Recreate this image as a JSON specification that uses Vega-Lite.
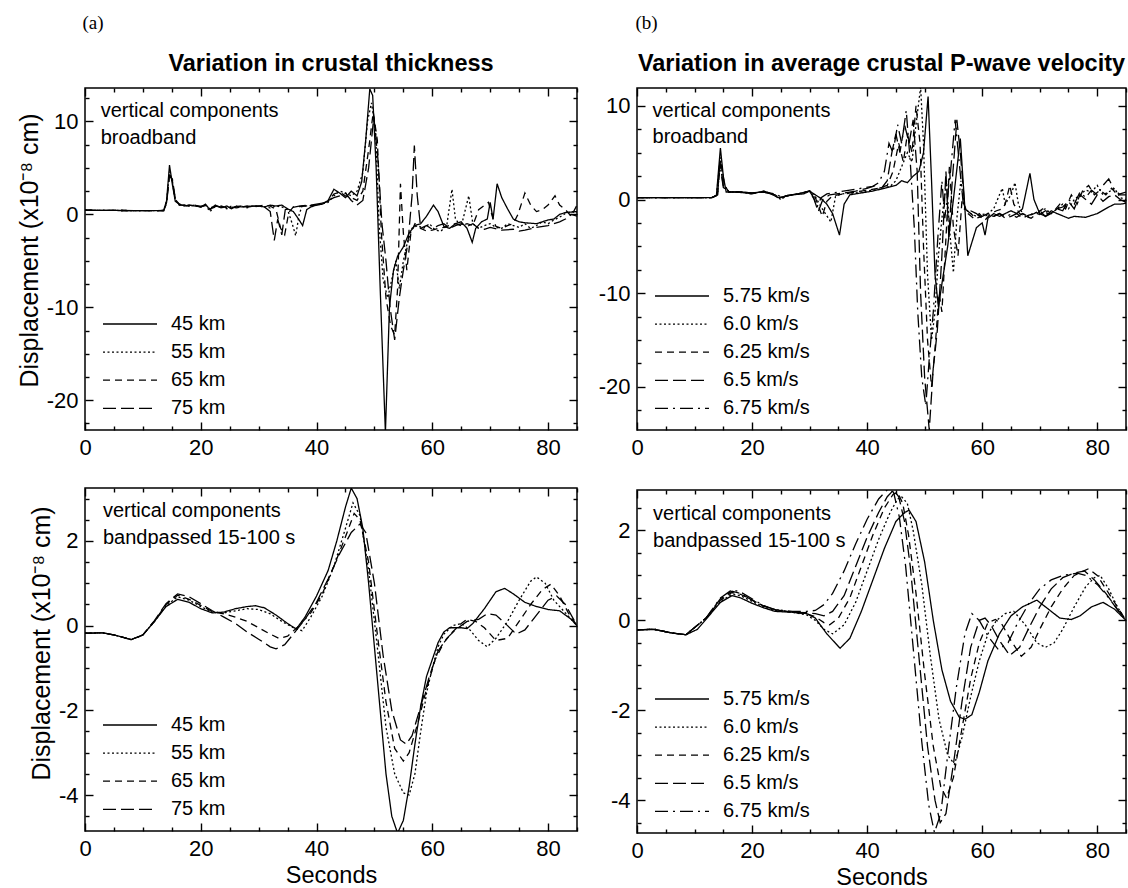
{
"$schema":"https://vega.github.io/schema/vega-lite/v6.json",
"background":"white",
"padding":{"left":16,"top":13,"right":0,"bottom":0},
"config":{
 "font":"Liberation Sans",
 "view":{"stroke":"#000","strokeWidth":1.5},
 "axis":{"domain":false,"grid":false,"labelFont":"Liberation Sans","labelFontSize":22,"labelColor":"#000","tickColor":"#000","tickWidth":1.4,"titleFont":"Liberation Sans","titleFontSize":23.5,"titleFontWeight":"normal","titleColor":"#000","labelFlush":false,"labelOverlap":false},
 "legend":{"orient":"bottom-left","offset":11,"padding":0,"symbolType":"M-0.4,0H5.0","symbolSize":400,"symbolStrokeWidth":1.3,"symbolStrokeColor":"black","symbolFillColor":"transparent","labelFont":"Liberation Sans","labelFontSize":20,"labelColor":"black","labelOffset":53,"rowPadding":7.1,"labelLimit":300},
 "title":{"font":"Liberation Sans","fontSize":23.5,"fontWeight":"bold","color":"black"}
},
"data":{"values":[
{"p":"A1","s":"45 km","x":0,"y":0.45},{"p":"A1","s":"45 km","x":6,"y":0.42},{"p":"A1","s":"45 km","x":12,"y":0.4},{"p":"A1","s":"45 km","x":13.6,"y":0.42},{"p":"A1","s":"45 km","x":14.1,"y":1.5},{"p":"A1","s":"45 km","x":14.6,"y":5.3},{"p":"A1","s":"45 km","x":15.1,"y":3.2},{"p":"A1","s":"45 km","x":15.6,"y":1.4},{"p":"A1","s":"45 km","x":16.3,"y":1.1},{"p":"A1","s":"45 km","x":17.2,"y":0.9},{"p":"A1","s":"45 km","x":18,"y":1.0},{"p":"A1","s":"45 km","x":19,"y":0.9},{"p":"A1","s":"45 km","x":20,"y":0.8},{"p":"A1","s":"45 km","x":20.8,"y":1.1},{"p":"A1","s":"45 km","x":21.6,"y":0.5},{"p":"A1","s":"45 km","x":22.5,"y":1.0},{"p":"A1","s":"45 km","x":23.5,"y":0.7},{"p":"A1","s":"45 km","x":24.5,"y":0.9},{"p":"A1","s":"45 km","x":25.3,"y":0.6},{"p":"A1","s":"45 km","x":26.2,"y":0.9},{"p":"A1","s":"45 km","x":27,"y":0.8},{"p":"A1","s":"45 km","x":28,"y":0.8},{"p":"A1","s":"45 km","x":29,"y":0.9},{"p":"A1","s":"45 km","x":30,"y":0.9},{"p":"A1","s":"45 km","x":31,"y":0.8},{"p":"A1","s":"45 km","x":32,"y":1.0},{"p":"A1","s":"45 km","x":33,"y":0.9},{"p":"A1","s":"45 km","x":34,"y":1.0},{"p":"A1","s":"45 km","x":35,"y":0.6},{"p":"A1","s":"45 km","x":36,"y":0.3},{"p":"A1","s":"45 km","x":37,"y":-0.6},{"p":"A1","s":"45 km","x":37.6,"y":-1.2},{"p":"A1","s":"45 km","x":38.3,"y":0.5},{"p":"A1","s":"45 km","x":39,"y":0.8},{"p":"A1","s":"45 km","x":40,"y":1.0},{"p":"A1","s":"45 km","x":41,"y":1.1},{"p":"A1","s":"45 km","x":42,"y":1.5},{"p":"A1","s":"45 km","x":43,"y":2.7},{"p":"A1","s":"45 km","x":44,"y":2.3},{"p":"A1","s":"45 km","x":45,"y":1.8},{"p":"A1","s":"45 km","x":46,"y":2.5},{"p":"A1","s":"45 km","x":47,"y":2.0},{"p":"A1","s":"45 km","x":47.8,"y":3.5},{"p":"A1","s":"45 km","x":48.5,"y":8},{"p":"A1","s":"45 km","x":49.2,"y":13.5},{"p":"A1","s":"45 km","x":49.7,"y":12.8},{"p":"A1","s":"45 km","x":50.3,"y":5},{"p":"A1","s":"45 km","x":51,"y":-8},{"p":"A1","s":"45 km","x":51.9,"y":-23.5},{"p":"A1","s":"45 km","x":52.6,"y":-10},{"p":"A1","s":"45 km","x":53.3,"y":-6},{"p":"A1","s":"45 km","x":54,"y":-4.5},{"p":"A1","s":"45 km","x":55,"y":-3.5},{"p":"A1","s":"45 km","x":56,"y":-2},{"p":"A1","s":"45 km","x":57,"y":-1.2},{"p":"A1","s":"45 km","x":58,"y":-1.0},{"p":"A1","s":"45 km","x":59,"y":-0.2},{"p":"A1","s":"45 km","x":60.2,"y":1.0},{"p":"A1","s":"45 km","x":61,"y":0.3},{"p":"A1","s":"45 km","x":62,"y":-1.3},{"p":"A1","s":"45 km","x":63,"y":-1.5},{"p":"A1","s":"45 km","x":64,"y":-1.0},{"p":"A1","s":"45 km","x":65,"y":-0.8},{"p":"A1","s":"45 km","x":66,"y":-1.5},{"p":"A1","s":"45 km","x":66.9,"y":-3.0},{"p":"A1","s":"45 km","x":67.5,"y":-1.5},{"p":"A1","s":"45 km","x":68.5,"y":-0.8},{"p":"A1","s":"45 km","x":69.5,"y":-0.5},{"p":"A1","s":"45 km","x":70,"y":1.3},{"p":"A1","s":"45 km","x":70.5,"y":-0.5},{"p":"A1","s":"45 km","x":71.2,"y":3.3},{"p":"A1","s":"45 km","x":72,"y":1.8},{"p":"A1","s":"45 km","x":73,"y":0.6},{"p":"A1","s":"45 km","x":74,"y":-0.5},{"p":"A1","s":"45 km","x":75,"y":-0.8},{"p":"A1","s":"45 km","x":76,"y":-0.9},{"p":"A1","s":"45 km","x":78,"y":-1.0},{"p":"A1","s":"45 km","x":80,"y":-0.6},{"p":"A1","s":"45 km","x":81,"y":-0.5},{"p":"A1","s":"45 km","x":82,"y":0},{"p":"A1","s":"45 km","x":83,"y":0.2},{"p":"A1","s":"45 km","x":85,"y":0.3},
{"p":"A1","s":"55 km","x":0,"y":0.45},{"p":"A1","s":"55 km","x":6,"y":0.42},{"p":"A1","s":"55 km","x":12,"y":0.4},{"p":"A1","s":"55 km","x":13.6,"y":0.42},{"p":"A1","s":"55 km","x":14.1,"y":1.4},{"p":"A1","s":"55 km","x":14.6,"y":4.6},{"p":"A1","s":"55 km","x":15.1,"y":3.4},{"p":"A1","s":"55 km","x":15.6,"y":1.5},{"p":"A1","s":"55 km","x":16.3,"y":1.0},{"p":"A1","s":"55 km","x":17.2,"y":1.0},{"p":"A1","s":"55 km","x":18,"y":0.9},{"p":"A1","s":"55 km","x":19,"y":1.0},{"p":"A1","s":"55 km","x":20,"y":0.8},{"p":"A1","s":"55 km","x":20.8,"y":1.0},{"p":"A1","s":"55 km","x":21.6,"y":0.3},{"p":"A1","s":"55 km","x":22.5,"y":0.9},{"p":"A1","s":"55 km","x":23.5,"y":0.8},{"p":"A1","s":"55 km","x":24.5,"y":0.6},{"p":"A1","s":"55 km","x":25.3,"y":0.9},{"p":"A1","s":"55 km","x":26.2,"y":0.7},{"p":"A1","s":"55 km","x":27,"y":0.9},{"p":"A1","s":"55 km","x":28,"y":0.7},{"p":"A1","s":"55 km","x":29,"y":0.9},{"p":"A1","s":"55 km","x":30,"y":0.9},{"p":"A1","s":"55 km","x":31,"y":0.8},{"p":"A1","s":"55 km","x":32,"y":0.7},{"p":"A1","s":"55 km","x":33,"y":0.9},{"p":"A1","s":"55 km","x":34,"y":0.8},{"p":"A1","s":"55 km","x":35,"y":0.5},{"p":"A1","s":"55 km","x":35.8,"y":-1.0},{"p":"A1","s":"55 km","x":36.4,"y":-2.3},{"p":"A1","s":"55 km","x":37,"y":0.0},{"p":"A1","s":"55 km","x":37.5,"y":0.9},{"p":"A1","s":"55 km","x":38,"y":0.9},{"p":"A1","s":"55 km","x":40,"y":1.0},{"p":"A1","s":"55 km","x":42,"y":1.3},{"p":"A1","s":"55 km","x":43,"y":2.0},{"p":"A1","s":"55 km","x":44,"y":2.5},{"p":"A1","s":"55 km","x":45,"y":2.3},{"p":"A1","s":"55 km","x":46,"y":2.0},{"p":"A1","s":"55 km","x":47,"y":2.5},{"p":"A1","s":"55 km","x":48,"y":4.5},{"p":"A1","s":"55 km","x":48.8,"y":10},{"p":"A1","s":"55 km","x":49.5,"y":12},{"p":"A1","s":"55 km","x":50.2,"y":9},{"p":"A1","s":"55 km","x":50.8,"y":-1},{"p":"A1","s":"55 km","x":51.5,"y":-7},{"p":"A1","s":"55 km","x":52.3,"y":-9},{"p":"A1","s":"55 km","x":53,"y":-7},{"p":"A1","s":"55 km","x":53.7,"y":-5},{"p":"A1","s":"55 km","x":54.3,"y":-8},{"p":"A1","s":"55 km","x":55,"y":-5},{"p":"A1","s":"55 km","x":55.7,"y":-3},{"p":"A1","s":"55 km","x":56.5,"y":-1.5},{"p":"A1","s":"55 km","x":57.5,"y":-1.2},{"p":"A1","s":"55 km","x":58.5,"y":-1.5},{"p":"A1","s":"55 km","x":59.5,"y":-1.0},{"p":"A1","s":"55 km","x":60.5,"y":-1.7},{"p":"A1","s":"55 km","x":61.5,"y":-1.8},{"p":"A1","s":"55 km","x":62.5,"y":-1.2},{"p":"A1","s":"55 km","x":63.4,"y":2.7},{"p":"A1","s":"55 km","x":64,"y":-0.5},{"p":"A1","s":"55 km","x":65,"y":-1.3},{"p":"A1","s":"55 km","x":66.3,"y":2.0},{"p":"A1","s":"55 km","x":67,"y":-1.0},{"p":"A1","s":"55 km","x":68,"y":-1.5},{"p":"A1","s":"55 km","x":69,"y":-1.2},{"p":"A1","s":"55 km","x":70,"y":-1.0},{"p":"A1","s":"55 km","x":71,"y":-1.4},{"p":"A1","s":"55 km","x":72,"y":-1.5},{"p":"A1","s":"55 km","x":73,"y":-1.0},{"p":"A1","s":"55 km","x":74,"y":-1.2},{"p":"A1","s":"55 km","x":75,"y":-1.4},{"p":"A1","s":"55 km","x":76,"y":-1.0},{"p":"A1","s":"55 km","x":77,"y":-1.5},{"p":"A1","s":"55 km","x":78,"y":-1.2},{"p":"A1","s":"55 km","x":79,"y":-0.8},{"p":"A1","s":"55 km","x":80,"y":-1.0},{"p":"A1","s":"55 km","x":81,"y":-0.6},{"p":"A1","s":"55 km","x":82,"y":-0.3},{"p":"A1","s":"55 km","x":83,"y":0.1},{"p":"A1","s":"55 km","x":84,"y":0.3},{"p":"A1","s":"55 km","x":85,"y":0.2},
{"p":"A1","s":"65 km","x":0,"y":0.45},{"p":"A1","s":"65 km","x":6,"y":0.42},{"p":"A1","s":"65 km","x":12,"y":0.4},{"p":"A1","s":"65 km","x":13.6,"y":0.42},{"p":"A1","s":"65 km","x":14.1,"y":1.3},{"p":"A1","s":"65 km","x":14.6,"y":4.4},{"p":"A1","s":"65 km","x":15.1,"y":3.6},{"p":"A1","s":"65 km","x":15.6,"y":1.6},{"p":"A1","s":"65 km","x":16.3,"y":1.1},{"p":"A1","s":"65 km","x":17.2,"y":0.9},{"p":"A1","s":"65 km","x":18,"y":1.0},{"p":"A1","s":"65 km","x":19,"y":0.9},{"p":"A1","s":"65 km","x":20,"y":0.9},{"p":"A1","s":"65 km","x":20.8,"y":0.9},{"p":"A1","s":"65 km","x":21.6,"y":0.6},{"p":"A1","s":"65 km","x":22.5,"y":0.8},{"p":"A1","s":"65 km","x":23.5,"y":0.9},{"p":"A1","s":"65 km","x":24.5,"y":0.7},{"p":"A1","s":"65 km","x":25.3,"y":0.8},{"p":"A1","s":"65 km","x":26.2,"y":0.7},{"p":"A1","s":"65 km","x":27,"y":0.8},{"p":"A1","s":"65 km","x":28,"y":0.9},{"p":"A1","s":"65 km","x":29,"y":0.8},{"p":"A1","s":"65 km","x":30,"y":0.9},{"p":"A1","s":"65 km","x":31,"y":1.0},{"p":"A1","s":"65 km","x":32,"y":0.9},{"p":"A1","s":"65 km","x":33,"y":0.5},{"p":"A1","s":"65 km","x":33.8,"y":-1.5},{"p":"A1","s":"65 km","x":34.5,"y":-2.2},{"p":"A1","s":"65 km","x":35.2,"y":0.2},{"p":"A1","s":"65 km","x":36,"y":0.8},{"p":"A1","s":"65 km","x":38,"y":0.9},{"p":"A1","s":"65 km","x":40,"y":1.0},{"p":"A1","s":"65 km","x":42,"y":1.4},{"p":"A1","s":"65 km","x":43,"y":2.2},{"p":"A1","s":"65 km","x":44,"y":2.4},{"p":"A1","s":"65 km","x":45,"y":2.0},{"p":"A1","s":"65 km","x":46,"y":1.8},{"p":"A1","s":"65 km","x":47,"y":1.5},{"p":"A1","s":"65 km","x":48,"y":2.5},{"p":"A1","s":"65 km","x":49,"y":7},{"p":"A1","s":"65 km","x":49.8,"y":11},{"p":"A1","s":"65 km","x":50.5,"y":8},{"p":"A1","s":"65 km","x":51.2,"y":-2},{"p":"A1","s":"65 km","x":52,"y":-9},{"p":"A1","s":"65 km","x":52.8,"y":-12},{"p":"A1","s":"65 km","x":53.5,"y":-13},{"p":"A1","s":"65 km","x":54,"y":-8},{"p":"A1","s":"65 km","x":54.5,"y":3.3},{"p":"A1","s":"65 km","x":55,"y":-2},{"p":"A1","s":"65 km","x":55.6,"y":-6},{"p":"A1","s":"65 km","x":56.3,"y":-2},{"p":"A1","s":"65 km","x":57,"y":-1.0},{"p":"A1","s":"65 km","x":58,"y":-1.5},{"p":"A1","s":"65 km","x":59,"y":-1.8},{"p":"A1","s":"65 km","x":60,"y":-1.7},{"p":"A1","s":"65 km","x":61,"y":-1.5},{"p":"A1","s":"65 km","x":62,"y":-1.4},{"p":"A1","s":"65 km","x":63,"y":-1.2},{"p":"A1","s":"65 km","x":64,"y":-1.0},{"p":"A1","s":"65 km","x":65,"y":-1.2},{"p":"A1","s":"65 km","x":66,"y":-1.0},{"p":"A1","s":"65 km","x":67,"y":-1.2},{"p":"A1","s":"65 km","x":68,"y":0.5},{"p":"A1","s":"65 km","x":69.7,"y":1.3},{"p":"A1","s":"65 km","x":70.5,"y":-0.5},{"p":"A1","s":"65 km","x":71,"y":-1.3},{"p":"A1","s":"65 km","x":72,"y":-1.5},{"p":"A1","s":"65 km","x":73,"y":-1.2},{"p":"A1","s":"65 km","x":74,"y":-1.0},{"p":"A1","s":"65 km","x":74.8,"y":0},{"p":"A1","s":"65 km","x":76,"y":2.3},{"p":"A1","s":"65 km","x":77,"y":1.0},{"p":"A1","s":"65 km","x":78,"y":0.3},{"p":"A1","s":"65 km","x":79,"y":0.5},{"p":"A1","s":"65 km","x":80,"y":1.0},{"p":"A1","s":"65 km","x":81.2,"y":2.0},{"p":"A1","s":"65 km","x":82,"y":1.0},{"p":"A1","s":"65 km","x":83,"y":0.5},{"p":"A1","s":"65 km","x":84,"y":-0.2},{"p":"A1","s":"65 km","x":85,"y":1.0},
{"p":"A1","s":"75 km","x":0,"y":0.45},{"p":"A1","s":"75 km","x":6,"y":0.42},{"p":"A1","s":"75 km","x":12,"y":0.4},{"p":"A1","s":"75 km","x":13.6,"y":0.42},{"p":"A1","s":"75 km","x":14.1,"y":1.2},{"p":"A1","s":"75 km","x":14.6,"y":4.2},{"p":"A1","s":"75 km","x":15.1,"y":3.8},{"p":"A1","s":"75 km","x":15.6,"y":1.7},{"p":"A1","s":"75 km","x":16.3,"y":1.0},{"p":"A1","s":"75 km","x":17.2,"y":1.0},{"p":"A1","s":"75 km","x":18,"y":0.9},{"p":"A1","s":"75 km","x":19,"y":1.0},{"p":"A1","s":"75 km","x":20,"y":0.8},{"p":"A1","s":"75 km","x":20.8,"y":1.0},{"p":"A1","s":"75 km","x":21.6,"y":0.7},{"p":"A1","s":"75 km","x":22.5,"y":0.9},{"p":"A1","s":"75 km","x":23.5,"y":0.8},{"p":"A1","s":"75 km","x":24.5,"y":0.8},{"p":"A1","s":"75 km","x":25.3,"y":0.7},{"p":"A1","s":"75 km","x":26.2,"y":0.8},{"p":"A1","s":"75 km","x":27,"y":0.9},{"p":"A1","s":"75 km","x":28,"y":0.8},{"p":"A1","s":"75 km","x":29,"y":0.9},{"p":"A1","s":"75 km","x":30,"y":0.9},{"p":"A1","s":"75 km","x":31,"y":0.8},{"p":"A1","s":"75 km","x":32,"y":0.3},{"p":"A1","s":"75 km","x":32.7,"y":-2.8},{"p":"A1","s":"75 km","x":33.3,"y":-0.5},{"p":"A1","s":"75 km","x":34,"y":-2.2},{"p":"A1","s":"75 km","x":34.6,"y":0.5},{"p":"A1","s":"75 km","x":35.5,"y":0.7},{"p":"A1","s":"75 km","x":37,"y":0.9},{"p":"A1","s":"75 km","x":39,"y":1.0},{"p":"A1","s":"75 km","x":41,"y":1.2},{"p":"A1","s":"75 km","x":43,"y":1.8},{"p":"A1","s":"75 km","x":44,"y":2.0},{"p":"A1","s":"75 km","x":45,"y":2.3},{"p":"A1","s":"75 km","x":46,"y":1.5},{"p":"A1","s":"75 km","x":47,"y":1.0},{"p":"A1","s":"75 km","x":48,"y":1.5},{"p":"A1","s":"75 km","x":49,"y":5},{"p":"A1","s":"75 km","x":49.9,"y":10.5},{"p":"A1","s":"75 km","x":50.6,"y":6},{"p":"A1","s":"75 km","x":51.3,"y":-1},{"p":"A1","s":"75 km","x":52,"y":-5},{"p":"A1","s":"75 km","x":52.7,"y":-10},{"p":"A1","s":"75 km","x":53.5,"y":-13.5},{"p":"A1","s":"75 km","x":54.3,"y":-9},{"p":"A1","s":"75 km","x":55,"y":-6},{"p":"A1","s":"75 km","x":55.8,"y":-3},{"p":"A1","s":"75 km","x":56.5,"y":2},{"p":"A1","s":"75 km","x":56.9,"y":7.4},{"p":"A1","s":"75 km","x":57.4,"y":2},{"p":"A1","s":"75 km","x":58,"y":-1.5},{"p":"A1","s":"75 km","x":59,"y":-1.2},{"p":"A1","s":"75 km","x":60,"y":-1.6},{"p":"A1","s":"75 km","x":61,"y":-1.2},{"p":"A1","s":"75 km","x":62,"y":-1.0},{"p":"A1","s":"75 km","x":63,"y":-1.5},{"p":"A1","s":"75 km","x":64,"y":-1.2},{"p":"A1","s":"75 km","x":65,"y":-1.0},{"p":"A1","s":"75 km","x":66,"y":-1.3},{"p":"A1","s":"75 km","x":67,"y":-1.0},{"p":"A1","s":"75 km","x":68,"y":-1.5},{"p":"A1","s":"75 km","x":69,"y":-1.6},{"p":"A1","s":"75 km","x":70,"y":-1.4},{"p":"A1","s":"75 km","x":72,"y":-1.7},{"p":"A1","s":"75 km","x":74,"y":-1.6},{"p":"A1","s":"75 km","x":75,"y":-1.8},{"p":"A1","s":"75 km","x":76,"y":-1.7},{"p":"A1","s":"75 km","x":78,"y":-1.4},{"p":"A1","s":"75 km","x":80,"y":-1.2},{"p":"A1","s":"75 km","x":82,"y":-0.8},{"p":"A1","s":"75 km","x":83,"y":-0.5},{"p":"A1","s":"75 km","x":84,"y":0},{"p":"A1","s":"75 km","x":85,"y":-0.2},
{"p":"B1","s":"5.75 km/s","x":0,"y":0.2},{"p":"B1","s":"5.75 km/s","x":13,"y":0.2},{"p":"B1","s":"5.75 km/s","x":13.8,"y":0.4},{"p":"B1","s":"5.75 km/s","x":14.5,"y":5.5},{"p":"B1","s":"5.75 km/s","x":15,"y":2.5},{"p":"B1","s":"5.75 km/s","x":15.5,"y":0.8},{"p":"B1","s":"5.75 km/s","x":17,"y":0.8},{"p":"B1","s":"5.75 km/s","x":19,"y":0.7},{"p":"B1","s":"5.75 km/s","x":20,"y":0.6},{"p":"B1","s":"5.75 km/s","x":22,"y":0.9},{"p":"B1","s":"5.75 km/s","x":23,"y":0.7},{"p":"B1","s":"5.75 km/s","x":24.5,"y":0.2},{"p":"B1","s":"5.75 km/s","x":25.5,"y":0.3},{"p":"B1","s":"5.75 km/s","x":27,"y":0.5},{"p":"B1","s":"5.75 km/s","x":29,"y":0.6},{"p":"B1","s":"5.75 km/s","x":30,"y":0.9},{"p":"B1","s":"5.75 km/s","x":31,"y":0.5},{"p":"B1","s":"5.75 km/s","x":32,"y":0.1},{"p":"B1","s":"5.75 km/s","x":33,"y":-0.5},{"p":"B1","s":"5.75 km/s","x":34,"y":-1.5},{"p":"B1","s":"5.75 km/s","x":35.2,"y":-3.8},{"p":"B1","s":"5.75 km/s","x":36,"y":-0.5},{"p":"B1","s":"5.75 km/s","x":37,"y":0.5},{"p":"B1","s":"5.75 km/s","x":39,"y":0.7},{"p":"B1","s":"5.75 km/s","x":41,"y":0.9},{"p":"B1","s":"5.75 km/s","x":43,"y":1.2},{"p":"B1","s":"5.75 km/s","x":45,"y":1.5},{"p":"B1","s":"5.75 km/s","x":46,"y":2.0},{"p":"B1","s":"5.75 km/s","x":47,"y":1.8},{"p":"B1","s":"5.75 km/s","x":48,"y":2.5},{"p":"B1","s":"5.75 km/s","x":49,"y":3.0},{"p":"B1","s":"5.75 km/s","x":49.8,"y":5},{"p":"B1","s":"5.75 km/s","x":50.6,"y":11},{"p":"B1","s":"5.75 km/s","x":51.2,"y":2},{"p":"B1","s":"5.75 km/s","x":51.8,"y":-8},{"p":"B1","s":"5.75 km/s","x":52.4,"y":-11.5},{"p":"B1","s":"5.75 km/s","x":53,"y":-9},{"p":"B1","s":"5.75 km/s","x":54,"y":-5},{"p":"B1","s":"5.75 km/s","x":55,"y":0},{"p":"B1","s":"5.75 km/s","x":56.2,"y":6.5},{"p":"B1","s":"5.75 km/s","x":57,"y":-1},{"p":"B1","s":"5.75 km/s","x":57.5,"y":-6},{"p":"B1","s":"5.75 km/s","x":58,"y":-5},{"p":"B1","s":"5.75 km/s","x":59,"y":-3},{"p":"B1","s":"5.75 km/s","x":60,"y":-2.5},{"p":"B1","s":"5.75 km/s","x":60.5,"y":-3.8},{"p":"B1","s":"5.75 km/s","x":61,"y":-2},{"p":"B1","s":"5.75 km/s","x":62,"y":-1.5},{"p":"B1","s":"5.75 km/s","x":63,"y":-1.8},{"p":"B1","s":"5.75 km/s","x":64,"y":-1.5},{"p":"B1","s":"5.75 km/s","x":65,"y":-1.2},{"p":"B1","s":"5.75 km/s","x":66,"y":-1.5},{"p":"B1","s":"5.75 km/s","x":67,"y":-1.0},{"p":"B1","s":"5.75 km/s","x":68.3,"y":2.8},{"p":"B1","s":"5.75 km/s","x":69,"y":0},{"p":"B1","s":"5.75 km/s","x":70,"y":-1.5},{"p":"B1","s":"5.75 km/s","x":71,"y":-1.8},{"p":"B1","s":"5.75 km/s","x":72,"y":-1.2},{"p":"B1","s":"5.75 km/s","x":73,"y":-1.5},{"p":"B1","s":"5.75 km/s","x":75,"y":-2.0},{"p":"B1","s":"5.75 km/s","x":76,"y":-1.8},{"p":"B1","s":"5.75 km/s","x":78,"y":-1.9},{"p":"B1","s":"5.75 km/s","x":80,"y":-1.5},{"p":"B1","s":"5.75 km/s","x":82,"y":-0.8},{"p":"B1","s":"5.75 km/s","x":83,"y":-0.5},{"p":"B1","s":"5.75 km/s","x":84,"y":-0.5},{"p":"B1","s":"5.75 km/s","x":85,"y":-0.4},
{"p":"B1","s":"6.0 km/s","x":0,"y":0.2},{"p":"B1","s":"6.0 km/s","x":13,"y":0.2},{"p":"B1","s":"6.0 km/s","x":13.8,"y":0.4},{"p":"B1","s":"6.0 km/s","x":14.5,"y":4.5},{"p":"B1","s":"6.0 km/s","x":15.2,"y":1.5},{"p":"B1","s":"6.0 km/s","x":16,"y":0.8},{"p":"B1","s":"6.0 km/s","x":18,"y":0.8},{"p":"B1","s":"6.0 km/s","x":20,"y":0.6},{"p":"B1","s":"6.0 km/s","x":22,"y":0.9},{"p":"B1","s":"6.0 km/s","x":23.5,"y":0.6},{"p":"B1","s":"6.0 km/s","x":25,"y":0.0},{"p":"B1","s":"6.0 km/s","x":26,"y":0.4},{"p":"B1","s":"6.0 km/s","x":28,"y":0.6},{"p":"B1","s":"6.0 km/s","x":30,"y":0.9},{"p":"B1","s":"6.0 km/s","x":31,"y":0.3},{"p":"B1","s":"6.0 km/s","x":32,"y":-0.8},{"p":"B1","s":"6.0 km/s","x":33.7,"y":-2.4},{"p":"B1","s":"6.0 km/s","x":34.5,"y":0.3},{"p":"B1","s":"6.0 km/s","x":35.5,"y":0.6},{"p":"B1","s":"6.0 km/s","x":38,"y":0.7},{"p":"B1","s":"6.0 km/s","x":40,"y":0.9},{"p":"B1","s":"6.0 km/s","x":42,"y":1.1},{"p":"B1","s":"6.0 km/s","x":44,"y":1.4},{"p":"B1","s":"6.0 km/s","x":45,"y":2},{"p":"B1","s":"6.0 km/s","x":46,"y":3.5},{"p":"B1","s":"6.0 km/s","x":47,"y":5},{"p":"B1","s":"6.0 km/s","x":47.8,"y":4},{"p":"B1","s":"6.0 km/s","x":48.5,"y":8},{"p":"B1","s":"6.0 km/s","x":49.3,"y":12},{"p":"B1","s":"6.0 km/s","x":49.8,"y":6},{"p":"B1","s":"6.0 km/s","x":50.5,"y":-8},{"p":"B1","s":"6.0 km/s","x":51.2,"y":-15},{"p":"B1","s":"6.0 km/s","x":51.8,"y":-12},{"p":"B1","s":"6.0 km/s","x":52.4,"y":-6},{"p":"B1","s":"6.0 km/s","x":53,"y":-2},{"p":"B1","s":"6.0 km/s","x":53.8,"y":2},{"p":"B1","s":"6.0 km/s","x":54.3,"y":-3},{"p":"B1","s":"6.0 km/s","x":55,"y":-7.8},{"p":"B1","s":"6.0 km/s","x":55.6,"y":-2},{"p":"B1","s":"6.0 km/s","x":56.3,"y":2},{"p":"B1","s":"6.0 km/s","x":57,"y":-1},{"p":"B1","s":"6.0 km/s","x":58,"y":-1.5},{"p":"B1","s":"6.0 km/s","x":59,"y":-1.8},{"p":"B1","s":"6.0 km/s","x":60,"y":-1.6},{"p":"B1","s":"6.0 km/s","x":61,"y":-1.5},{"p":"B1","s":"6.0 km/s","x":62,"y":-1.0},{"p":"B1","s":"6.0 km/s","x":63,"y":0.5},{"p":"B1","s":"6.0 km/s","x":63.5,"y":1.2},{"p":"B1","s":"6.0 km/s","x":64,"y":-0.5},{"p":"B1","s":"6.0 km/s","x":65,"y":0.5},{"p":"B1","s":"6.0 km/s","x":65.7,"y":1.8},{"p":"B1","s":"6.0 km/s","x":66.3,"y":-0.5},{"p":"B1","s":"6.0 km/s","x":67,"y":-1.5},{"p":"B1","s":"6.0 km/s","x":68,"y":-1.8},{"p":"B1","s":"6.0 km/s","x":69,"y":-1.5},{"p":"B1","s":"6.0 km/s","x":70,"y":-1.2},{"p":"B1","s":"6.0 km/s","x":71,"y":-1.0},{"p":"B1","s":"6.0 km/s","x":72,"y":-1.5},{"p":"B1","s":"6.0 km/s","x":73,"y":-1.0},{"p":"B1","s":"6.0 km/s","x":74,"y":-0.5},{"p":"B1","s":"6.0 km/s","x":75,"y":-1.0},{"p":"B1","s":"6.0 km/s","x":76,"y":0},{"p":"B1","s":"6.0 km/s","x":77,"y":0.5},{"p":"B1","s":"6.0 km/s","x":78,"y":1.0},{"p":"B1","s":"6.0 km/s","x":79,"y":0.8},{"p":"B1","s":"6.0 km/s","x":80,"y":1.5},{"p":"B1","s":"6.0 km/s","x":81,"y":0.5},{"p":"B1","s":"6.0 km/s","x":82,"y":0.8},{"p":"B1","s":"6.0 km/s","x":83,"y":1.2},{"p":"B1","s":"6.0 km/s","x":84,"y":0.2},{"p":"B1","s":"6.0 km/s","x":85,"y":0.0},
{"p":"B1","s":"6.25 km/s","x":0,"y":0.2},{"p":"B1","s":"6.25 km/s","x":13,"y":0.2},{"p":"B1","s":"6.25 km/s","x":14,"y":0.5},{"p":"B1","s":"6.25 km/s","x":14.5,"y":4.2},{"p":"B1","s":"6.25 km/s","x":15.2,"y":1.5},{"p":"B1","s":"6.25 km/s","x":16,"y":0.8},{"p":"B1","s":"6.25 km/s","x":18,"y":0.8},{"p":"B1","s":"6.25 km/s","x":20,"y":0.7},{"p":"B1","s":"6.25 km/s","x":22,"y":0.8},{"p":"B1","s":"6.25 km/s","x":24,"y":0.5},{"p":"B1","s":"6.25 km/s","x":25,"y":0.1},{"p":"B1","s":"6.25 km/s","x":26,"y":0.4},{"p":"B1","s":"6.25 km/s","x":28,"y":0.6},{"p":"B1","s":"6.25 km/s","x":30,"y":0.9},{"p":"B1","s":"6.25 km/s","x":31,"y":0.2},{"p":"B1","s":"6.25 km/s","x":32.2,"y":-1.8},{"p":"B1","s":"6.25 km/s","x":33,"y":-0.2},{"p":"B1","s":"6.25 km/s","x":34,"y":0.4},{"p":"B1","s":"6.25 km/s","x":36,"y":0.6},{"p":"B1","s":"6.25 km/s","x":38,"y":0.8},{"p":"B1","s":"6.25 km/s","x":40,"y":1.0},{"p":"B1","s":"6.25 km/s","x":42,"y":1.2},{"p":"B1","s":"6.25 km/s","x":43.5,"y":1.5},{"p":"B1","s":"6.25 km/s","x":44.5,"y":3},{"p":"B1","s":"6.25 km/s","x":45.5,"y":6},{"p":"B1","s":"6.25 km/s","x":46.3,"y":4},{"p":"B1","s":"6.25 km/s","x":47,"y":7},{"p":"B1","s":"6.25 km/s","x":47.8,"y":5},{"p":"B1","s":"6.25 km/s","x":48.5,"y":10},{"p":"B1","s":"6.25 km/s","x":49.2,"y":6},{"p":"B1","s":"6.25 km/s","x":49.8,"y":-5},{"p":"B1","s":"6.25 km/s","x":50.5,"y":-15},{"p":"B1","s":"6.25 km/s","x":51.2,"y":-20},{"p":"B1","s":"6.25 km/s","x":51.8,"y":-16},{"p":"B1","s":"6.25 km/s","x":52.5,"y":-10},{"p":"B1","s":"6.25 km/s","x":53,"y":-12},{"p":"B1","s":"6.25 km/s","x":53.8,"y":-3},{"p":"B1","s":"6.25 km/s","x":54.3,"y":3.5},{"p":"B1","s":"6.25 km/s","x":55,"y":-3},{"p":"B1","s":"6.25 km/s","x":55.8,"y":-6},{"p":"B1","s":"6.25 km/s","x":56.5,"y":0},{"p":"B1","s":"6.25 km/s","x":57.5,"y":-1.5},{"p":"B1","s":"6.25 km/s","x":58.5,"y":-2},{"p":"B1","s":"6.25 km/s","x":59.5,"y":-1.5},{"p":"B1","s":"6.25 km/s","x":60.5,"y":-2.2},{"p":"B1","s":"6.25 km/s","x":61.5,"y":-1.5},{"p":"B1","s":"6.25 km/s","x":62.5,"y":-1.2},{"p":"B1","s":"6.25 km/s","x":63.5,"y":-1.0},{"p":"B1","s":"6.25 km/s","x":64,"y":-0.5},{"p":"B1","s":"6.25 km/s","x":64.8,"y":1.5},{"p":"B1","s":"6.25 km/s","x":65.5,"y":-0.5},{"p":"B1","s":"6.25 km/s","x":66.5,"y":-1.5},{"p":"B1","s":"6.25 km/s","x":67.5,"y":-1.8},{"p":"B1","s":"6.25 km/s","x":68.5,"y":-2.0},{"p":"B1","s":"6.25 km/s","x":69.5,"y":-1.5},{"p":"B1","s":"6.25 km/s","x":70.5,"y":-1.0},{"p":"B1","s":"6.25 km/s","x":71.5,"y":-1.6},{"p":"B1","s":"6.25 km/s","x":72.5,"y":-1.2},{"p":"B1","s":"6.25 km/s","x":73.5,"y":-0.5},{"p":"B1","s":"6.25 km/s","x":74.5,"y":-1.0},{"p":"B1","s":"6.25 km/s","x":75.5,"y":0.5},{"p":"B1","s":"6.25 km/s","x":76.5,"y":-0.5},{"p":"B1","s":"6.25 km/s","x":77.5,"y":1.0},{"p":"B1","s":"6.25 km/s","x":78.5,"y":1.5},{"p":"B1","s":"6.25 km/s","x":79.5,"y":0.5},{"p":"B1","s":"6.25 km/s","x":80.5,"y":1.0},{"p":"B1","s":"6.25 km/s","x":81.5,"y":0.5},{"p":"B1","s":"6.25 km/s","x":82.5,"y":1.2},{"p":"B1","s":"6.25 km/s","x":83.5,"y":0.5},{"p":"B1","s":"6.25 km/s","x":85,"y":0.8},
{"p":"B1","s":"6.5 km/s","x":0,"y":0.2},{"p":"B1","s":"6.5 km/s","x":13,"y":0.2},{"p":"B1","s":"6.5 km/s","x":14,"y":0.5},{"p":"B1","s":"6.5 km/s","x":14.4,"y":4.0},{"p":"B1","s":"6.5 km/s","x":15,"y":1.5},{"p":"B1","s":"6.5 km/s","x":16,"y":0.8},{"p":"B1","s":"6.5 km/s","x":18,"y":0.8},{"p":"B1","s":"6.5 km/s","x":20,"y":0.7},{"p":"B1","s":"6.5 km/s","x":22,"y":0.8},{"p":"B1","s":"6.5 km/s","x":24,"y":0.5},{"p":"B1","s":"6.5 km/s","x":25,"y":0.2},{"p":"B1","s":"6.5 km/s","x":26,"y":0.4},{"p":"B1","s":"6.5 km/s","x":28,"y":0.6},{"p":"B1","s":"6.5 km/s","x":30,"y":0.9},{"p":"B1","s":"6.5 km/s","x":30.8,"y":0.0},{"p":"B1","s":"6.5 km/s","x":31.5,"y":-1.3},{"p":"B1","s":"6.5 km/s","x":32.3,"y":0.0},{"p":"B1","s":"6.5 km/s","x":33.5,"y":0.5},{"p":"B1","s":"6.5 km/s","x":36,"y":0.7},{"p":"B1","s":"6.5 km/s","x":38,"y":0.9},{"p":"B1","s":"6.5 km/s","x":40,"y":1.2},{"p":"B1","s":"6.5 km/s","x":41.5,"y":1.5},{"p":"B1","s":"6.5 km/s","x":42.5,"y":1.2},{"p":"B1","s":"6.5 km/s","x":43.5,"y":2},{"p":"B1","s":"6.5 km/s","x":44.3,"y":5},{"p":"B1","s":"6.5 km/s","x":45,"y":7},{"p":"B1","s":"6.5 km/s","x":45.7,"y":5},{"p":"B1","s":"6.5 km/s","x":46.5,"y":8},{"p":"B1","s":"6.5 km/s","x":47.3,"y":6},{"p":"B1","s":"6.5 km/s","x":48,"y":8.5},{"p":"B1","s":"6.5 km/s","x":48.7,"y":3},{"p":"B1","s":"6.5 km/s","x":49.3,"y":-10},{"p":"B1","s":"6.5 km/s","x":50,"y":-19},{"p":"B1","s":"6.5 km/s","x":50.8,"y":-24.6},{"p":"B1","s":"6.5 km/s","x":51.5,"y":-18},{"p":"B1","s":"6.5 km/s","x":52.2,"y":-14},{"p":"B1","s":"6.5 km/s","x":53,"y":-6},{"p":"B1","s":"6.5 km/s","x":53.7,"y":3},{"p":"B1","s":"6.5 km/s","x":54.2,"y":-4},{"p":"B1","s":"6.5 km/s","x":54.8,"y":2},{"p":"B1","s":"6.5 km/s","x":55.6,"y":8.5},{"p":"B1","s":"6.5 km/s","x":56.2,"y":5},{"p":"B1","s":"6.5 km/s","x":57,"y":-1},{"p":"B1","s":"6.5 km/s","x":58,"y":-1.5},{"p":"B1","s":"6.5 km/s","x":59,"y":-2.0},{"p":"B1","s":"6.5 km/s","x":60,"y":-1.8},{"p":"B1","s":"6.5 km/s","x":61,"y":-1.5},{"p":"B1","s":"6.5 km/s","x":62,"y":-1.8},{"p":"B1","s":"6.5 km/s","x":63,"y":-1.5},{"p":"B1","s":"6.5 km/s","x":64,"y":-2.0},{"p":"B1","s":"6.5 km/s","x":65,"y":-1.8},{"p":"B1","s":"6.5 km/s","x":66,"y":-1.5},{"p":"B1","s":"6.5 km/s","x":67,"y":-2.0},{"p":"B1","s":"6.5 km/s","x":68,"y":-1.7},{"p":"B1","s":"6.5 km/s","x":69,"y":-1.5},{"p":"B1","s":"6.5 km/s","x":70,"y":-1.2},{"p":"B1","s":"6.5 km/s","x":71,"y":-1.8},{"p":"B1","s":"6.5 km/s","x":72,"y":-1.5},{"p":"B1","s":"6.5 km/s","x":73,"y":-1.0},{"p":"B1","s":"6.5 km/s","x":74,"y":-0.8},{"p":"B1","s":"6.5 km/s","x":75,"y":-0.2},{"p":"B1","s":"6.5 km/s","x":76,"y":-1.0},{"p":"B1","s":"6.5 km/s","x":77,"y":0.5},{"p":"B1","s":"6.5 km/s","x":78,"y":0},{"p":"B1","s":"6.5 km/s","x":79,"y":-0.5},{"p":"B1","s":"6.5 km/s","x":80,"y":0.5},{"p":"B1","s":"6.5 km/s","x":81,"y":-0.2},{"p":"B1","s":"6.5 km/s","x":82,"y":0.3},{"p":"B1","s":"6.5 km/s","x":83,"y":0.5},{"p":"B1","s":"6.5 km/s","x":84,"y":0.0},{"p":"B1","s":"6.5 km/s","x":85,"y":-0.3},
{"p":"B1","s":"6.75 km/s","x":0,"y":0.2},{"p":"B1","s":"6.75 km/s","x":13,"y":0.2},{"p":"B1","s":"6.75 km/s","x":14,"y":0.5},{"p":"B1","s":"6.75 km/s","x":14.4,"y":3.8},{"p":"B1","s":"6.75 km/s","x":15,"y":1.3},{"p":"B1","s":"6.75 km/s","x":16,"y":0.8},{"p":"B1","s":"6.75 km/s","x":18,"y":0.8},{"p":"B1","s":"6.75 km/s","x":20,"y":0.7},{"p":"B1","s":"6.75 km/s","x":22,"y":0.8},{"p":"B1","s":"6.75 km/s","x":24,"y":0.6},{"p":"B1","s":"6.75 km/s","x":25,"y":0.3},{"p":"B1","s":"6.75 km/s","x":26,"y":0.4},{"p":"B1","s":"6.75 km/s","x":28,"y":0.6},{"p":"B1","s":"6.75 km/s","x":30,"y":0.9},{"p":"B1","s":"6.75 km/s","x":30.7,"y":0.2},{"p":"B1","s":"6.75 km/s","x":31.3,"y":-0.8},{"p":"B1","s":"6.75 km/s","x":32,"y":0.2},{"p":"B1","s":"6.75 km/s","x":33,"y":0.6},{"p":"B1","s":"6.75 km/s","x":35,"y":0.8},{"p":"B1","s":"6.75 km/s","x":37,"y":1.0},{"p":"B1","s":"6.75 km/s","x":39,"y":1.2},{"p":"B1","s":"6.75 km/s","x":41,"y":1.4},{"p":"B1","s":"6.75 km/s","x":42,"y":1.8},{"p":"B1","s":"6.75 km/s","x":43,"y":3},{"p":"B1","s":"6.75 km/s","x":43.8,"y":6},{"p":"B1","s":"6.75 km/s","x":44.5,"y":5},{"p":"B1","s":"6.75 km/s","x":45.3,"y":8},{"p":"B1","s":"6.75 km/s","x":46,"y":6},{"p":"B1","s":"6.75 km/s","x":46.8,"y":9.5},{"p":"B1","s":"6.75 km/s","x":47.5,"y":4},{"p":"B1","s":"6.75 km/s","x":48.2,"y":-3},{"p":"B1","s":"6.75 km/s","x":48.8,"y":-12},{"p":"B1","s":"6.75 km/s","x":49.5,"y":-19},{"p":"B1","s":"6.75 km/s","x":50.2,"y":-22},{"p":"B1","s":"6.75 km/s","x":50.8,"y":-17},{"p":"B1","s":"6.75 km/s","x":51.5,"y":-12},{"p":"B1","s":"6.75 km/s","x":52.3,"y":-4},{"p":"B1","s":"6.75 km/s","x":53,"y":2},{"p":"B1","s":"6.75 km/s","x":53.5,"y":-2},{"p":"B1","s":"6.75 km/s","x":54.5,"y":3},{"p":"B1","s":"6.75 km/s","x":55.3,"y":8.5},{"p":"B1","s":"6.75 km/s","x":56,"y":4},{"p":"B1","s":"6.75 km/s","x":56.8,"y":-1},{"p":"B1","s":"6.75 km/s","x":58,"y":-1.2},{"p":"B1","s":"6.75 km/s","x":59,"y":-1.5},{"p":"B1","s":"6.75 km/s","x":60,"y":-2.0},{"p":"B1","s":"6.75 km/s","x":61,"y":-1.6},{"p":"B1","s":"6.75 km/s","x":62,"y":-1.8},{"p":"B1","s":"6.75 km/s","x":63,"y":-1.5},{"p":"B1","s":"6.75 km/s","x":64,"y":-1.8},{"p":"B1","s":"6.75 km/s","x":65,"y":-1.6},{"p":"B1","s":"6.75 km/s","x":66,"y":-1.9},{"p":"B1","s":"6.75 km/s","x":67,"y":-1.5},{"p":"B1","s":"6.75 km/s","x":68,"y":-1.8},{"p":"B1","s":"6.75 km/s","x":69,"y":-1.4},{"p":"B1","s":"6.75 km/s","x":70,"y":-1.6},{"p":"B1","s":"6.75 km/s","x":71,"y":-1.2},{"p":"B1","s":"6.75 km/s","x":72,"y":-1.5},{"p":"B1","s":"6.75 km/s","x":73,"y":-1.0},{"p":"B1","s":"6.75 km/s","x":74,"y":-1.2},{"p":"B1","s":"6.75 km/s","x":75,"y":0.0},{"p":"B1","s":"6.75 km/s","x":76,"y":-0.5},{"p":"B1","s":"6.75 km/s","x":77,"y":0.8},{"p":"B1","s":"6.75 km/s","x":78,"y":0.2},{"p":"B1","s":"6.75 km/s","x":79,"y":1.0},{"p":"B1","s":"6.75 km/s","x":80,"y":0.5},{"p":"B1","s":"6.75 km/s","x":81,"y":1.5},{"p":"B1","s":"6.75 km/s","x":82,"y":2.2},{"p":"B1","s":"6.75 km/s","x":83,"y":1.0},{"p":"B1","s":"6.75 km/s","x":84,"y":0.5},{"p":"B1","s":"6.75 km/s","x":85,"y":0.5},
{"p":"A2","s":"45 km","x":0,"y":-0.18},{"p":"A2","s":"45 km","x":3,"y":-0.17},{"p":"A2","s":"45 km","x":5,"y":-0.22},{"p":"A2","s":"45 km","x":8,"y":-0.33},{"p":"A2","s":"45 km","x":10,"y":-0.22},{"p":"A2","s":"45 km","x":12,"y":0.1},{"p":"A2","s":"45 km","x":14,"y":0.45},{"p":"A2","s":"45 km","x":16,"y":0.62},{"p":"A2","s":"45 km","x":18,"y":0.55},{"p":"A2","s":"45 km","x":20,"y":0.4},{"p":"A2","s":"45 km","x":22,"y":0.3},{"p":"A2","s":"45 km","x":24,"y":0.32},{"p":"A2","s":"45 km","x":26,"y":0.4},{"p":"A2","s":"45 km","x":28,"y":0.45},{"p":"A2","s":"45 km","x":29.5,"y":0.47},{"p":"A2","s":"45 km","x":31,"y":0.42},{"p":"A2","s":"45 km","x":33,"y":0.25},{"p":"A2","s":"45 km","x":35,"y":0.05},{"p":"A2","s":"45 km","x":36.5,"y":-0.08},{"p":"A2","s":"45 km","x":38,"y":0.2},{"p":"A2","s":"45 km","x":40,"y":0.7},{"p":"A2","s":"45 km","x":42,"y":1.3},{"p":"A2","s":"45 km","x":43.5,"y":2.0},{"p":"A2","s":"45 km","x":45,"y":2.8},{"p":"A2","s":"45 km","x":46,"y":3.25},{"p":"A2","s":"45 km","x":47,"y":3.0},{"p":"A2","s":"45 km","x":48,"y":2.3},{"p":"A2","s":"45 km","x":49,"y":1.0},{"p":"A2","s":"45 km","x":50,"y":-0.5},{"p":"A2","s":"45 km","x":51,"y":-2.0},{"p":"A2","s":"45 km","x":52,"y":-3.5},{"p":"A2","s":"45 km","x":53,"y":-4.5},{"p":"A2","s":"45 km","x":54,"y":-4.9},{"p":"A2","s":"45 km","x":55,"y":-4.6},{"p":"A2","s":"45 km","x":56,"y":-3.8},{"p":"A2","s":"45 km","x":57,"y":-2.8},{"p":"A2","s":"45 km","x":58,"y":-1.9},{"p":"A2","s":"45 km","x":59,"y":-1.2},{"p":"A2","s":"45 km","x":60,"y":-0.8},{"p":"A2","s":"45 km","x":61,"y":-0.4},{"p":"A2","s":"45 km","x":62,"y":-0.15},{"p":"A2","s":"45 km","x":63,"y":-0.05},{"p":"A2","s":"45 km","x":65,"y":-0.05},{"p":"A2","s":"45 km","x":66,"y":-0.07},{"p":"A2","s":"45 km","x":67,"y":0.05},{"p":"A2","s":"45 km","x":69,"y":0.4},{"p":"A2","s":"45 km","x":71,"y":0.8},{"p":"A2","s":"45 km","x":72.5,"y":0.88},{"p":"A2","s":"45 km","x":74,"y":0.75},{"p":"A2","s":"45 km","x":76,"y":0.55},{"p":"A2","s":"45 km","x":78,"y":0.45},{"p":"A2","s":"45 km","x":80,"y":0.38},{"p":"A2","s":"45 km","x":82,"y":0.35},{"p":"A2","s":"45 km","x":84,"y":0.15},{"p":"A2","s":"45 km","x":85,"y":0.0},
{"p":"A2","s":"55 km","x":0,"y":-0.18},{"p":"A2","s":"55 km","x":3,"y":-0.17},{"p":"A2","s":"55 km","x":5,"y":-0.22},{"p":"A2","s":"55 km","x":8,"y":-0.33},{"p":"A2","s":"55 km","x":10,"y":-0.22},{"p":"A2","s":"55 km","x":12,"y":0.1},{"p":"A2","s":"55 km","x":14,"y":0.47},{"p":"A2","s":"55 km","x":16,"y":0.68},{"p":"A2","s":"55 km","x":18,"y":0.6},{"p":"A2","s":"55 km","x":20,"y":0.45},{"p":"A2","s":"55 km","x":22,"y":0.32},{"p":"A2","s":"55 km","x":24,"y":0.3},{"p":"A2","s":"55 km","x":26,"y":0.35},{"p":"A2","s":"55 km","x":28,"y":0.4},{"p":"A2","s":"55 km","x":30,"y":0.38},{"p":"A2","s":"55 km","x":32,"y":0.28},{"p":"A2","s":"55 km","x":34,"y":0.1},{"p":"A2","s":"55 km","x":36,"y":-0.05},{"p":"A2","s":"55 km","x":37.5,"y":-0.12},{"p":"A2","s":"55 km","x":39,"y":0.2},{"p":"A2","s":"55 km","x":41,"y":0.7},{"p":"A2","s":"55 km","x":43,"y":1.4},{"p":"A2","s":"55 km","x":45,"y":2.3},{"p":"A2","s":"55 km","x":46.3,"y":2.9},{"p":"A2","s":"55 km","x":47.5,"y":2.6},{"p":"A2","s":"55 km","x":49,"y":1.3},{"p":"A2","s":"55 km","x":50.5,"y":-0.5},{"p":"A2","s":"55 km","x":52,"y":-2.4},{"p":"A2","s":"55 km","x":53.5,"y":-3.5},{"p":"A2","s":"55 km","x":55,"y":-3.95},{"p":"A2","s":"55 km","x":56,"y":-4.0},{"p":"A2","s":"55 km","x":57,"y":-3.5},{"p":"A2","s":"55 km","x":58,"y":-2.5},{"p":"A2","s":"55 km","x":59,"y":-1.6},{"p":"A2","s":"55 km","x":60,"y":-1.0},{"p":"A2","s":"55 km","x":61,"y":-0.5},{"p":"A2","s":"55 km","x":62,"y":-0.2},{"p":"A2","s":"55 km","x":63.5,"y":0.0},{"p":"A2","s":"55 km","x":65,"y":0.05},{"p":"A2","s":"55 km","x":66.5,"y":-0.1},{"p":"A2","s":"55 km","x":68,"y":-0.35},{"p":"A2","s":"55 km","x":69.5,"y":-0.5},{"p":"A2","s":"55 km","x":71,"y":-0.3},{"p":"A2","s":"55 km","x":73,"y":0.1},{"p":"A2","s":"55 km","x":75,"y":0.6},{"p":"A2","s":"55 km","x":77,"y":1.05},{"p":"A2","s":"55 km","x":78,"y":1.15},{"p":"A2","s":"55 km","x":79.5,"y":1.0},{"p":"A2","s":"55 km","x":81,"y":0.6},{"p":"A2","s":"55 km","x":83,"y":0.3},{"p":"A2","s":"55 km","x":85,"y":0.0},
{"p":"A2","s":"65 km","x":0,"y":-0.18},{"p":"A2","s":"65 km","x":3,"y":-0.17},{"p":"A2","s":"65 km","x":5,"y":-0.22},{"p":"A2","s":"65 km","x":8,"y":-0.33},{"p":"A2","s":"65 km","x":10,"y":-0.22},{"p":"A2","s":"65 km","x":12,"y":0.1},{"p":"A2","s":"65 km","x":14,"y":0.5},{"p":"A2","s":"65 km","x":16,"y":0.72},{"p":"A2","s":"65 km","x":18,"y":0.62},{"p":"A2","s":"65 km","x":20,"y":0.48},{"p":"A2","s":"65 km","x":22,"y":0.33},{"p":"A2","s":"65 km","x":24,"y":0.28},{"p":"A2","s":"65 km","x":26,"y":0.2},{"p":"A2","s":"65 km","x":28,"y":0.1},{"p":"A2","s":"65 km","x":30,"y":-0.05},{"p":"A2","s":"65 km","x":32,"y":-0.2},{"p":"A2","s":"65 km","x":33.5,"y":-0.3},{"p":"A2","s":"65 km","x":35,"y":-0.25},{"p":"A2","s":"65 km","x":37,"y":0.0},{"p":"A2","s":"65 km","x":39,"y":0.3},{"p":"A2","s":"65 km","x":41,"y":0.75},{"p":"A2","s":"65 km","x":43,"y":1.4},{"p":"A2","s":"65 km","x":45,"y":2.1},{"p":"A2","s":"65 km","x":46.5,"y":2.65},{"p":"A2","s":"65 km","x":47.5,"y":2.5},{"p":"A2","s":"65 km","x":49,"y":1.5},{"p":"A2","s":"65 km","x":50.5,"y":-0.2},{"p":"A2","s":"65 km","x":52,"y":-1.8},{"p":"A2","s":"65 km","x":53.5,"y":-2.9},{"p":"A2","s":"65 km","x":55,"y":-3.2},{"p":"A2","s":"65 km","x":56,"y":-3.0},{"p":"A2","s":"65 km","x":57.5,"y":-2.3},{"p":"A2","s":"65 km","x":59,"y":-1.5},{"p":"A2","s":"65 km","x":60.5,"y":-0.8},{"p":"A2","s":"65 km","x":62,"y":-0.4},{"p":"A2","s":"65 km","x":63.5,"y":-0.15},{"p":"A2","s":"65 km","x":65,"y":0.05},{"p":"A2","s":"65 km","x":66,"y":0.15},{"p":"A2","s":"65 km","x":67.5,"y":0.1},{"p":"A2","s":"65 km","x":69,"y":-0.05},{"p":"A2","s":"65 km","x":71,"y":-0.35},{"p":"A2","s":"65 km","x":73,"y":-0.3},{"p":"A2","s":"65 km","x":75,"y":0.1},{"p":"A2","s":"65 km","x":77,"y":0.5},{"p":"A2","s":"65 km","x":79,"y":0.85},{"p":"A2","s":"65 km","x":80.5,"y":0.98},{"p":"A2","s":"65 km","x":82,"y":0.7},{"p":"A2","s":"65 km","x":83.5,"y":0.3},{"p":"A2","s":"65 km","x":85,"y":0.0},
{"p":"A2","s":"75 km","x":0,"y":-0.18},{"p":"A2","s":"75 km","x":3,"y":-0.17},{"p":"A2","s":"75 km","x":5,"y":-0.22},{"p":"A2","s":"75 km","x":8,"y":-0.33},{"p":"A2","s":"75 km","x":10,"y":-0.22},{"p":"A2","s":"75 km","x":12,"y":0.12},{"p":"A2","s":"75 km","x":14,"y":0.52},{"p":"A2","s":"75 km","x":16,"y":0.75},{"p":"A2","s":"75 km","x":18,"y":0.68},{"p":"A2","s":"75 km","x":20,"y":0.52},{"p":"A2","s":"75 km","x":22,"y":0.35},{"p":"A2","s":"75 km","x":24,"y":0.2},{"p":"A2","s":"75 km","x":26,"y":0.05},{"p":"A2","s":"75 km","x":28,"y":-0.15},{"p":"A2","s":"75 km","x":30,"y":-0.32},{"p":"A2","s":"75 km","x":32,"y":-0.5},{"p":"A2","s":"75 km","x":33,"y":-0.55},{"p":"A2","s":"75 km","x":34.5,"y":-0.45},{"p":"A2","s":"75 km","x":36,"y":-0.2},{"p":"A2","s":"75 km","x":38,"y":0.15},{"p":"A2","s":"75 km","x":40,"y":0.55},{"p":"A2","s":"75 km","x":42,"y":1.1},{"p":"A2","s":"75 km","x":44,"y":1.7},{"p":"A2","s":"75 km","x":46,"y":2.2},{"p":"A2","s":"75 km","x":47.5,"y":2.4},{"p":"A2","s":"75 km","x":48.5,"y":2.2},{"p":"A2","s":"75 km","x":50,"y":1.0},{"p":"A2","s":"75 km","x":51.5,"y":-0.7},{"p":"A2","s":"75 km","x":53,"y":-2.0},{"p":"A2","s":"75 km","x":54.5,"y":-2.7},{"p":"A2","s":"75 km","x":55.5,"y":-2.8},{"p":"A2","s":"75 km","x":56.5,"y":-2.6},{"p":"A2","s":"75 km","x":58,"y":-1.9},{"p":"A2","s":"75 km","x":59.5,"y":-1.2},{"p":"A2","s":"75 km","x":61,"y":-0.6},{"p":"A2","s":"75 km","x":62.5,"y":-0.3},{"p":"A2","s":"75 km","x":64,"y":-0.1},{"p":"A2","s":"75 km","x":66,"y":0.1},{"p":"A2","s":"75 km","x":68,"y":0.15},{"p":"A2","s":"75 km","x":69.5,"y":0.28},{"p":"A2","s":"75 km","x":71,"y":0.25},{"p":"A2","s":"75 km","x":73,"y":0.0},{"p":"A2","s":"75 km","x":74.5,"y":-0.2},{"p":"A2","s":"75 km","x":76,"y":-0.1},{"p":"A2","s":"75 km","x":78,"y":0.25},{"p":"A2","s":"75 km","x":80,"y":0.6},{"p":"A2","s":"75 km","x":81.5,"y":0.7},{"p":"A2","s":"75 km","x":83,"y":0.5},{"p":"A2","s":"75 km","x":85,"y":0.0},
{"p":"B2","s":"5.75 km/s","x":0,"y":-0.21},{"p":"B2","s":"5.75 km/s","x":3,"y":-0.2},{"p":"B2","s":"5.75 km/s","x":6,"y":-0.28},{"p":"B2","s":"5.75 km/s","x":8.5,"y":-0.32},{"p":"B2","s":"5.75 km/s","x":10.5,"y":-0.2},{"p":"B2","s":"5.75 km/s","x":12.5,"y":0.1},{"p":"B2","s":"5.75 km/s","x":14.5,"y":0.4},{"p":"B2","s":"5.75 km/s","x":16.5,"y":0.55},{"p":"B2","s":"5.75 km/s","x":18,"y":0.5},{"p":"B2","s":"5.75 km/s","x":20,"y":0.38},{"p":"B2","s":"5.75 km/s","x":22,"y":0.28},{"p":"B2","s":"5.75 km/s","x":24,"y":0.2},{"p":"B2","s":"5.75 km/s","x":27,"y":0.18},{"p":"B2","s":"5.75 km/s","x":29.5,"y":0.15},{"p":"B2","s":"5.75 km/s","x":31,"y":0.05},{"p":"B2","s":"5.75 km/s","x":33,"y":-0.3},{"p":"B2","s":"5.75 km/s","x":35.3,"y":-0.62},{"p":"B2","s":"5.75 km/s","x":37,"y":-0.4},{"p":"B2","s":"5.75 km/s","x":39,"y":0.2},{"p":"B2","s":"5.75 km/s","x":41,"y":0.9},{"p":"B2","s":"5.75 km/s","x":43,"y":1.6},{"p":"B2","s":"5.75 km/s","x":45,"y":2.2},{"p":"B2","s":"5.75 km/s","x":46.5,"y":2.4},{"p":"B2","s":"5.75 km/s","x":47.3,"y":2.45},{"p":"B2","s":"5.75 km/s","x":48.5,"y":2.2},{"p":"B2","s":"5.75 km/s","x":50,"y":1.3},{"p":"B2","s":"5.75 km/s","x":51.5,"y":0.0},{"p":"B2","s":"5.75 km/s","x":53,"y":-1.1},{"p":"B2","s":"5.75 km/s","x":54.5,"y":-1.8},{"p":"B2","s":"5.75 km/s","x":56,"y":-2.15},{"p":"B2","s":"5.75 km/s","x":57,"y":-2.2},{"p":"B2","s":"5.75 km/s","x":58.2,"y":-2.1},{"p":"B2","s":"5.75 km/s","x":59.5,"y":-1.6},{"p":"B2","s":"5.75 km/s","x":61,"y":-0.9},{"p":"B2","s":"5.75 km/s","x":63,"y":-0.3},{"p":"B2","s":"5.75 km/s","x":65,"y":0.1},{"p":"B2","s":"5.75 km/s","x":67,"y":0.3},{"p":"B2","s":"5.75 km/s","x":69.5,"y":0.45},{"p":"B2","s":"5.75 km/s","x":71.5,"y":0.25},{"p":"B2","s":"5.75 km/s","x":73.5,"y":0.05},{"p":"B2","s":"5.75 km/s","x":75.5,"y":0.02},{"p":"B2","s":"5.75 km/s","x":77,"y":0.1},{"p":"B2","s":"5.75 km/s","x":79,"y":0.3},{"p":"B2","s":"5.75 km/s","x":81,"y":0.4},{"p":"B2","s":"5.75 km/s","x":83,"y":0.25},{"p":"B2","s":"5.75 km/s","x":85,"y":0.0},
{"p":"B2","s":"6.0 km/s","x":0,"y":-0.21},{"p":"B2","s":"6.0 km/s","x":3,"y":-0.2},{"p":"B2","s":"6.0 km/s","x":6,"y":-0.28},{"p":"B2","s":"6.0 km/s","x":8.5,"y":-0.32},{"p":"B2","s":"6.0 km/s","x":12,"y":0.05},{"p":"B2","s":"6.0 km/s","x":14.5,"y":0.42},{"p":"B2","s":"6.0 km/s","x":16.5,"y":0.58},{"p":"B2","s":"6.0 km/s","x":18,"y":0.55},{"p":"B2","s":"6.0 km/s","x":20,"y":0.42},{"p":"B2","s":"6.0 km/s","x":22,"y":0.3},{"p":"B2","s":"6.0 km/s","x":24,"y":0.22},{"p":"B2","s":"6.0 km/s","x":27,"y":0.18},{"p":"B2","s":"6.0 km/s","x":29.5,"y":0.12},{"p":"B2","s":"6.0 km/s","x":31,"y":0.0},{"p":"B2","s":"6.0 km/s","x":32.5,"y":-0.2},{"p":"B2","s":"6.0 km/s","x":34,"y":-0.3},{"p":"B2","s":"6.0 km/s","x":36,"y":-0.1},{"p":"B2","s":"6.0 km/s","x":38,"y":0.4},{"p":"B2","s":"6.0 km/s","x":40,"y":1.1},{"p":"B2","s":"6.0 km/s","x":42,"y":1.8},{"p":"B2","s":"6.0 km/s","x":44,"y":2.4},{"p":"B2","s":"6.0 km/s","x":45.3,"y":2.7},{"p":"B2","s":"6.0 km/s","x":46,"y":2.75},{"p":"B2","s":"6.0 km/s","x":47,"y":2.6},{"p":"B2","s":"6.0 km/s","x":48,"y":2.0},{"p":"B2","s":"6.0 km/s","x":49.5,"y":0.8},{"p":"B2","s":"6.0 km/s","x":51,"y":-0.8},{"p":"B2","s":"6.0 km/s","x":52.5,"y":-2.2},{"p":"B2","s":"6.0 km/s","x":54,"y":-3.0},{"p":"B2","s":"6.0 km/s","x":55.2,"y":-3.2},{"p":"B2","s":"6.0 km/s","x":56.5,"y":-2.6},{"p":"B2","s":"6.0 km/s","x":58,"y":-1.7},{"p":"B2","s":"6.0 km/s","x":59.5,"y":-0.9},{"p":"B2","s":"6.0 km/s","x":61,"y":-0.3},{"p":"B2","s":"6.0 km/s","x":62.5,"y":0.0},{"p":"B2","s":"6.0 km/s","x":64,"y":0.15},{"p":"B2","s":"6.0 km/s","x":65.5,"y":0.2},{"p":"B2","s":"6.0 km/s","x":67.5,"y":-0.1},{"p":"B2","s":"6.0 km/s","x":69.5,"y":-0.5},{"p":"B2","s":"6.0 km/s","x":71,"y":-0.6},{"p":"B2","s":"6.0 km/s","x":72.5,"y":-0.5},{"p":"B2","s":"6.0 km/s","x":74,"y":-0.2},{"p":"B2","s":"6.0 km/s","x":76,"y":0.3},{"p":"B2","s":"6.0 km/s","x":78,"y":0.75},{"p":"B2","s":"6.0 km/s","x":79.5,"y":0.95},{"p":"B2","s":"6.0 km/s","x":80.5,"y":1.0},{"p":"B2","s":"6.0 km/s","x":82,"y":0.7},{"p":"B2","s":"6.0 km/s","x":83.5,"y":0.3},{"p":"B2","s":"6.0 km/s","x":85,"y":0.0},
{"p":"B2","s":"6.25 km/s","x":0,"y":-0.21},{"p":"B2","s":"6.25 km/s","x":3,"y":-0.2},{"p":"B2","s":"6.25 km/s","x":6,"y":-0.28},{"p":"B2","s":"6.25 km/s","x":8.5,"y":-0.32},{"p":"B2","s":"6.25 km/s","x":12,"y":0.05},{"p":"B2","s":"6.25 km/s","x":14.5,"y":0.45},{"p":"B2","s":"6.25 km/s","x":16.5,"y":0.62},{"p":"B2","s":"6.25 km/s","x":18,"y":0.58},{"p":"B2","s":"6.25 km/s","x":20,"y":0.45},{"p":"B2","s":"6.25 km/s","x":22,"y":0.32},{"p":"B2","s":"6.25 km/s","x":24,"y":0.24},{"p":"B2","s":"6.25 km/s","x":27,"y":0.18},{"p":"B2","s":"6.25 km/s","x":29.5,"y":0.15},{"p":"B2","s":"6.25 km/s","x":31,"y":0.08},{"p":"B2","s":"6.25 km/s","x":32.5,"y":-0.05},{"p":"B2","s":"6.25 km/s","x":33.5,"y":-0.1},{"p":"B2","s":"6.25 km/s","x":35,"y":0.05},{"p":"B2","s":"6.25 km/s","x":37,"y":0.5},{"p":"B2","s":"6.25 km/s","x":39,"y":1.2},{"p":"B2","s":"6.25 km/s","x":41,"y":1.9},{"p":"B2","s":"6.25 km/s","x":43,"y":2.5},{"p":"B2","s":"6.25 km/s","x":44.5,"y":2.8},{"p":"B2","s":"6.25 km/s","x":45.3,"y":2.85},{"p":"B2","s":"6.25 km/s","x":46.2,"y":2.6},{"p":"B2","s":"6.25 km/s","x":47.2,"y":1.9},{"p":"B2","s":"6.25 km/s","x":48.5,"y":0.6},{"p":"B2","s":"6.25 km/s","x":50,"y":-1.2},{"p":"B2","s":"6.25 km/s","x":51.5,"y":-2.8},{"p":"B2","s":"6.25 km/s","x":52.8,"y":-3.7},{"p":"B2","s":"6.25 km/s","x":53.8,"y":-3.95},{"p":"B2","s":"6.25 km/s","x":55,"y":-3.5},{"p":"B2","s":"6.25 km/s","x":56.5,"y":-2.4},{"p":"B2","s":"6.25 km/s","x":58,"y":-1.3},{"p":"B2","s":"6.25 km/s","x":59.5,"y":-0.5},{"p":"B2","s":"6.25 km/s","x":61,"y":-0.05},{"p":"B2","s":"6.25 km/s","x":62.3,"y":0.02},{"p":"B2","s":"6.25 km/s","x":63.5,"y":-0.1},{"p":"B2","s":"6.25 km/s","x":65,"y":-0.45},{"p":"B2","s":"6.25 km/s","x":66.8,"y":-0.8},{"p":"B2","s":"6.25 km/s","x":68.5,"y":-0.6},{"p":"B2","s":"6.25 km/s","x":70,"y":-0.2},{"p":"B2","s":"6.25 km/s","x":72,"y":0.3},{"p":"B2","s":"6.25 km/s","x":74,"y":0.7},{"p":"B2","s":"6.25 km/s","x":76,"y":1.0},{"p":"B2","s":"6.25 km/s","x":78.5,"y":1.15},{"p":"B2","s":"6.25 km/s","x":80,"y":1.0},{"p":"B2","s":"6.25 km/s","x":82,"y":0.6},{"p":"B2","s":"6.25 km/s","x":83.5,"y":0.3},{"p":"B2","s":"6.25 km/s","x":85,"y":0.0},
{"p":"B2","s":"6.5 km/s","x":0,"y":-0.21},{"p":"B2","s":"6.5 km/s","x":3,"y":-0.2},{"p":"B2","s":"6.5 km/s","x":6,"y":-0.28},{"p":"B2","s":"6.5 km/s","x":8.5,"y":-0.32},{"p":"B2","s":"6.5 km/s","x":12,"y":0.05},{"p":"B2","s":"6.5 km/s","x":14.5,"y":0.48},{"p":"B2","s":"6.5 km/s","x":16.5,"y":0.65},{"p":"B2","s":"6.5 km/s","x":18,"y":0.6},{"p":"B2","s":"6.5 km/s","x":20,"y":0.45},{"p":"B2","s":"6.5 km/s","x":22,"y":0.32},{"p":"B2","s":"6.5 km/s","x":24,"y":0.24},{"p":"B2","s":"6.5 km/s","x":27,"y":0.18},{"p":"B2","s":"6.5 km/s","x":29.5,"y":0.17},{"p":"B2","s":"6.5 km/s","x":31,"y":0.15},{"p":"B2","s":"6.5 km/s","x":32.5,"y":0.1},{"p":"B2","s":"6.5 km/s","x":34,"y":0.2},{"p":"B2","s":"6.5 km/s","x":36,"y":0.55},{"p":"B2","s":"6.5 km/s","x":38,"y":1.2},{"p":"B2","s":"6.5 km/s","x":40,"y":1.85},{"p":"B2","s":"6.5 km/s","x":42,"y":2.4},{"p":"B2","s":"6.5 km/s","x":43.5,"y":2.75},{"p":"B2","s":"6.5 km/s","x":44.6,"y":2.9},{"p":"B2","s":"6.5 km/s","x":45.5,"y":2.75},{"p":"B2","s":"6.5 km/s","x":46.5,"y":2.2},{"p":"B2","s":"6.5 km/s","x":47.5,"y":1.2},{"p":"B2","s":"6.5 km/s","x":49,"y":-0.8},{"p":"B2","s":"6.5 km/s","x":50.5,"y":-2.8},{"p":"B2","s":"6.5 km/s","x":51.8,"y":-4.0},{"p":"B2","s":"6.5 km/s","x":52.7,"y":-4.5},{"p":"B2","s":"6.5 km/s","x":53.7,"y":-4.3},{"p":"B2","s":"6.5 km/s","x":55,"y":-3.2},{"p":"B2","s":"6.5 km/s","x":56.5,"y":-1.8},{"p":"B2","s":"6.5 km/s","x":58,"y":-0.6},{"p":"B2","s":"6.5 km/s","x":59.5,"y":0.0},{"p":"B2","s":"6.5 km/s","x":60.5,"y":0.05},{"p":"B2","s":"6.5 km/s","x":61.5,"y":-0.1},{"p":"B2","s":"6.5 km/s","x":63,"y":-0.45},{"p":"B2","s":"6.5 km/s","x":64.8,"y":-0.78},{"p":"B2","s":"6.5 km/s","x":66.5,"y":-0.6},{"p":"B2","s":"6.5 km/s","x":68,"y":-0.2},{"p":"B2","s":"6.5 km/s","x":70,"y":0.3},{"p":"B2","s":"6.5 km/s","x":72,"y":0.7},{"p":"B2","s":"6.5 km/s","x":74,"y":0.95},{"p":"B2","s":"6.5 km/s","x":76,"y":1.05},{"p":"B2","s":"6.5 km/s","x":77.8,"y":1.1},{"p":"B2","s":"6.5 km/s","x":79.5,"y":0.9},{"p":"B2","s":"6.5 km/s","x":81.5,"y":0.6},{"p":"B2","s":"6.5 km/s","x":83.5,"y":0.25},{"p":"B2","s":"6.5 km/s","x":85,"y":0.0},
{"p":"B2","s":"6.75 km/s","x":0,"y":-0.21},{"p":"B2","s":"6.75 km/s","x":3,"y":-0.2},{"p":"B2","s":"6.75 km/s","x":6,"y":-0.28},{"p":"B2","s":"6.75 km/s","x":8.5,"y":-0.32},{"p":"B2","s":"6.75 km/s","x":12,"y":0.05},{"p":"B2","s":"6.75 km/s","x":14.5,"y":0.5},{"p":"B2","s":"6.75 km/s","x":16.5,"y":0.68},{"p":"B2","s":"6.75 km/s","x":18,"y":0.63},{"p":"B2","s":"6.75 km/s","x":20,"y":0.48},{"p":"B2","s":"6.75 km/s","x":22,"y":0.33},{"p":"B2","s":"6.75 km/s","x":24,"y":0.24},{"p":"B2","s":"6.75 km/s","x":27,"y":0.2},{"p":"B2","s":"6.75 km/s","x":29.5,"y":0.2},{"p":"B2","s":"6.75 km/s","x":31,"y":0.22},{"p":"B2","s":"6.75 km/s","x":32.5,"y":0.35},{"p":"B2","s":"6.75 km/s","x":34,"y":0.6},{"p":"B2","s":"6.75 km/s","x":36,"y":1.1},{"p":"B2","s":"6.75 km/s","x":38,"y":1.7},{"p":"B2","s":"6.75 km/s","x":40,"y":2.25},{"p":"B2","s":"6.75 km/s","x":42,"y":2.7},{"p":"B2","s":"6.75 km/s","x":43.6,"y":2.92},{"p":"B2","s":"6.75 km/s","x":44.6,"y":2.85},{"p":"B2","s":"6.75 km/s","x":45.6,"y":2.3},{"p":"B2","s":"6.75 km/s","x":46.7,"y":1.2},{"p":"B2","s":"6.75 km/s","x":48,"y":-0.6},{"p":"B2","s":"6.75 km/s","x":49.5,"y":-2.7},{"p":"B2","s":"6.75 km/s","x":50.7,"y":-4.1},{"p":"B2","s":"6.75 km/s","x":51.7,"y":-4.72},{"p":"B2","s":"6.75 km/s","x":52.8,"y":-4.3},{"p":"B2","s":"6.75 km/s","x":54,"y":-3.0},{"p":"B2","s":"6.75 km/s","x":55.5,"y":-1.5},{"p":"B2","s":"6.75 km/s","x":57,"y":-0.3},{"p":"B2","s":"6.75 km/s","x":58.2,"y":0.15},{"p":"B2","s":"6.75 km/s","x":59.5,"y":0.0},{"p":"B2","s":"6.75 km/s","x":61,"y":-0.35},{"p":"B2","s":"6.75 km/s","x":62.8,"y":-0.65},{"p":"B2","s":"6.75 km/s","x":64.5,"y":-0.5},{"p":"B2","s":"6.75 km/s","x":66,"y":-0.1},{"p":"B2","s":"6.75 km/s","x":68,"y":0.35},{"p":"B2","s":"6.75 km/s","x":70,"y":0.7},{"p":"B2","s":"6.75 km/s","x":72,"y":0.9},{"p":"B2","s":"6.75 km/s","x":74,"y":1.0},{"p":"B2","s":"6.75 km/s","x":76.5,"y":1.05},{"p":"B2","s":"6.75 km/s","x":78,"y":1.0},{"p":"B2","s":"6.75 km/s","x":80,"y":0.8},{"p":"B2","s":"6.75 km/s","x":82,"y":0.5},{"p":"B2","s":"6.75 km/s","x":84,"y":0.15},{"p":"B2","s":"6.75 km/s","x":85,"y":0.0}
]},
"resolve":{"scale":{"strokeDash":"independent"},"legend":{"strokeDash":"independent"}},
"spacing":18,
"hconcat":[
{
 "title":{"text":"(a)","anchor":"start","font":"Liberation Serif","fontSize":19,"fontWeight":"normal","offset":18,"dx":66},
 "spacing":23,
 "resolve":{"scale":{"strokeDash":"independent"},"legend":{"strokeDash":"independent"}},
 "vconcat":[
  {
   "width":492,"height":342,
   "title":{"text":"Variation in crustal thickness","anchor":"middle","frame":"group","offset":12},
   "resolve":{"axis":{"x":"independent","y":"independent"}},
   "layer":[
    {
     "transform":[{"filter":"datum.p === 'A1'"}],
     "mark":{"type":"line","clip":true,"color":"black","strokeWidth":1.3},
     "encoding":{
      "x":{"field":"x","type":"quantitative","scale":{"domain":[0,85],"nice":false,"zero":false},
           "axis":{"orient":"bottom","title":null,"values":[0,5,10,15,20,25,30,35,40,45,50,55,60,65,70,75,80,85],"labelExpr":"datum.value % 20 === 0 ? datum.label : ''","tickSize":{"condition":{"test":"datum.value % 20 === 0","value":-8},"value":-4},"labelPadding":15}},
      "y":{"field":"y","type":"quantitative","scale":{"domain":[-23.2,13.6],"nice":false,"zero":false},
           "axis":{"orient":"left","title":"Displacement (x10⁻⁸ cm)","titleFontSize":25,"titlePadding":4,"titleY":162,"values":[-22.5,-20,-17.5,-15,-12.5,-10,-7.5,-5,-2.5,0,2.5,5,7.5,10,12.5],"labelExpr":"datum.value % 10 === 0 ? '' + datum.value : ''","tickSize":{"condition":{"test":"datum.value % 10 === 0","value":-8},"value":-4},"labelPadding":15}},
      "strokeDash":{"field":"s","type":"nominal","scale":{"domain":["45 km","55 km","65 km","75 km"],"range":[[1,0],[2,2.5],[7,5],[13,5]]},"legend":{"title":null}}
     }
    },
    {
     "data":{"values":[{}]},
     "mark":{"type":"text","align":"left","baseline":"top","fontSize":20,"lineBreak":"\n","lineHeight":27,"color":"black"},
     "encoding":{
      "x":{"datum":2.7,"type":"quantitative","axis":{"orient":"top","title":null,"labels":false,"values":[0,5,10,15,20,25,30,35,40,45,50,55,60,65,70,75,80,85],"tickSize":{"condition":{"test":"datum.value % 20 === 0","value":-8},"value":-4}}},
      "y":{"datum":12.15,"type":"quantitative","axis":{"orient":"right","title":null,"labels":false,"values":[-22.5,-20,-17.5,-15,-12.5,-10,-7.5,-5,-2.5,0,2.5,5,7.5,10,12.5],"tickSize":{"condition":{"test":"datum.value % 10 === 0","value":-8},"value":-4}}},
      "text":{"value":"vertical components\nbroadband"}
     }
    }
   ]
  },
  {
   "width":492,"height":343,
   "resolve":{"axis":{"x":"independent","y":"independent"}},
   "layer":[
    {
     "transform":[{"filter":"datum.p === 'A2'"}],
     "mark":{"type":"line","clip":true,"color":"black","strokeWidth":1.3},
     "encoding":{
      "x":{"field":"x","type":"quantitative","scale":{"domain":[0,85],"nice":false,"zero":false},
           "axis":{"orient":"bottom","title":"Seconds","titlePadding":0,"values":[0,5,10,15,20,25,30,35,40,45,50,55,60,65,70,75,80,85],"labelExpr":"datum.value % 20 === 0 ? datum.label : ''","tickSize":{"condition":{"test":"datum.value % 20 === 0","value":-8},"value":-4},"labelPadding":15}},
      "y":{"field":"y","type":"quantitative","scale":{"domain":[-4.85,3.25],"nice":false,"zero":false},
           "axis":{"orient":"left","title":"Displacement (x10⁻⁸ cm)","titleFontSize":25,"titlePadding":4,"titleY":155,"values":[-4.5,-4,-3.5,-3,-2.5,-2,-1.5,-1,-0.5,0,0.5,1,1.5,2,2.5,3],"labelExpr":"datum.value % 2 === 0 ? '' + datum.value : ''","tickSize":{"condition":{"test":"datum.value % 2 === 0","value":-8},"value":-4},"labelPadding":15}},
      "strokeDash":{"field":"s","type":"nominal","scale":{"domain":["45 km","55 km","65 km","75 km"],"range":[[1,0],[2,2.5],[7,5],[13,5]]},"legend":{"title":null}}
     }
    },
    {
     "data":{"values":[{}]},
     "mark":{"type":"text","align":"left","baseline":"top","fontSize":20,"lineBreak":"\n","lineHeight":27,"color":"black"},
     "encoding":{
      "x":{"datum":3.1,"type":"quantitative","axis":{"orient":"top","title":null,"labels":false,"values":[0,5,10,15,20,25,30,35,40,45,50,55,60,65,70,75,80,85],"tickSize":{"condition":{"test":"datum.value % 20 === 0","value":-8},"value":-4}}},
      "y":{"datum":2.94,"type":"quantitative","axis":{"orient":"right","title":null,"labels":false,"values":[-4.5,-4,-3.5,-3,-2.5,-2,-1.5,-1,-0.5,0,0.5,1,1.5,2,2.5,3],"tickSize":{"condition":{"test":"datum.value % 2 === 0","value":-8},"value":-4}}},
      "text":{"value":"vertical components\nbandpassed 15-100 s"}
     }
    }
   ]
  }
 ]
},
{
 "title":{"text":"(b)","anchor":"start","font":"Liberation Serif","fontSize":19,"fontWeight":"normal","offset":18,"dx":38},
 "spacing":25,
 "resolve":{"scale":{"strokeDash":"independent"},"legend":{"strokeDash":"independent"}},
 "vconcat":[
  {
   "width":489,"height":342,
   "title":{"text":"Variation in average crustal P-wave velocity","anchor":"middle","frame":"group","offset":12},
   "resolve":{"axis":{"x":"independent","y":"independent"}},
   "layer":[
    {
     "transform":[{"filter":"datum.p === 'B1'"}],
     "mark":{"type":"line","clip":true,"color":"black","strokeWidth":1.3},
     "encoding":{
      "x":{"field":"x","type":"quantitative","scale":{"domain":[0,85],"nice":false,"zero":false},
           "axis":{"orient":"bottom","title":null,"values":[0,5,10,15,20,25,30,35,40,45,50,55,60,65,70,75,80,85],"labelExpr":"datum.value % 20 === 0 ? datum.label : ''","tickSize":{"condition":{"test":"datum.value % 20 === 0","value":-8},"value":-4},"labelPadding":15}},
      "y":{"field":"y","type":"quantitative","scale":{"domain":[-24.6,11.9],"nice":false,"zero":false},
           "axis":{"orient":"left","title":null,"values":[-22.5,-20,-17.5,-15,-12.5,-10,-7.5,-5,-2.5,0,2.5,5,7.5,10],"labelExpr":"datum.value % 10 === 0 ? '' + datum.value : ''","tickSize":{"condition":{"test":"datum.value % 10 === 0","value":-8},"value":-4},"labelPadding":15}},
      "strokeDash":{"field":"s","type":"nominal","scale":{"domain":["5.75 km/s","6.0 km/s","6.25 km/s","6.5 km/s","6.75 km/s"],"range":[[1,0],[2,2.5],[7,5],[13,5],[13,5,2,5]]},"legend":{"title":null}}
     }
    },
    {
     "data":{"values":[{}]},
     "mark":{"type":"text","align":"left","baseline":"top","fontSize":20,"lineBreak":"\n","lineHeight":26,"color":"black"},
     "encoding":{
      "x":{"datum":2.7,"type":"quantitative","axis":{"orient":"top","title":null,"labels":false,"values":[0,5,10,15,20,25,30,35,40,45,50,55,60,65,70,75,80,85],"tickSize":{"condition":{"test":"datum.value % 20 === 0","value":-8},"value":-4}}},
      "y":{"datum":10.53,"type":"quantitative","axis":{"orient":"right","title":null,"labels":false,"values":[-22.5,-20,-17.5,-15,-12.5,-10,-7.5,-5,-2.5,0,2.5,5,7.5,10],"tickSize":{"condition":{"test":"datum.value % 10 === 0","value":-8},"value":-4}}},
      "text":{"value":"vertical components\nbroadband"}
     }
    }
   ]
  },
  {
   "width":489,"height":343,
   "resolve":{"axis":{"x":"independent","y":"independent"}},
   "layer":[
    {
     "transform":[{"filter":"datum.p === 'B2'"}],
     "mark":{"type":"line","clip":true,"color":"black","strokeWidth":1.3},
     "encoding":{
      "x":{"field":"x","type":"quantitative","scale":{"domain":[0,85],"nice":false,"zero":false},
           "axis":{"orient":"bottom","title":"Seconds","titlePadding":0,"values":[0,5,10,15,20,25,30,35,40,45,50,55,60,65,70,75,80,85],"labelExpr":"datum.value % 20 === 0 ? datum.label : ''","tickSize":{"condition":{"test":"datum.value % 20 === 0","value":-8},"value":-4},"labelPadding":15}},
      "y":{"field":"y","type":"quantitative","scale":{"domain":[-4.73,2.9],"nice":false,"zero":false},
           "axis":{"orient":"left","title":null,"values":[-4.5,-4,-3.5,-3,-2.5,-2,-1.5,-1,-0.5,0,0.5,1,1.5,2,2.5],"labelExpr":"datum.value % 2 === 0 ? '' + datum.value : ''","tickSize":{"condition":{"test":"datum.value % 2 === 0","value":-8},"value":-4},"labelPadding":15}},
      "strokeDash":{"field":"s","type":"nominal","scale":{"domain":["5.75 km/s","6.0 km/s","6.25 km/s","6.5 km/s","6.75 km/s"],"range":[[1,0],[2,2.5],[7,5],[13,5],[13,5,2,5]]},"legend":{"title":null}}
     }
    },
    {
     "data":{"values":[{}]},
     "mark":{"type":"text","align":"left","baseline":"top","fontSize":20,"lineBreak":"\n","lineHeight":27,"color":"black"},
     "encoding":{
      "x":{"datum":2.8,"type":"quantitative","axis":{"orient":"top","title":null,"labels":false,"values":[0,5,10,15,20,25,30,35,40,45,50,55,60,65,70,75,80,85],"tickSize":{"condition":{"test":"datum.value % 20 === 0","value":-8},"value":-4}}},
      "y":{"datum":2.59,"type":"quantitative","axis":{"orient":"right","title":null,"labels":false,"values":[-4.5,-4,-3.5,-3,-2.5,-2,-1.5,-1,-0.5,0,0.5,1,1.5,2,2.5],"tickSize":{"condition":{"test":"datum.value % 2 === 0","value":-8},"value":-4}}},
      "text":{"value":"vertical components\nbandpassed 15-100 s"}
     }
    }
   ]
  }
 ]
}
]
}
